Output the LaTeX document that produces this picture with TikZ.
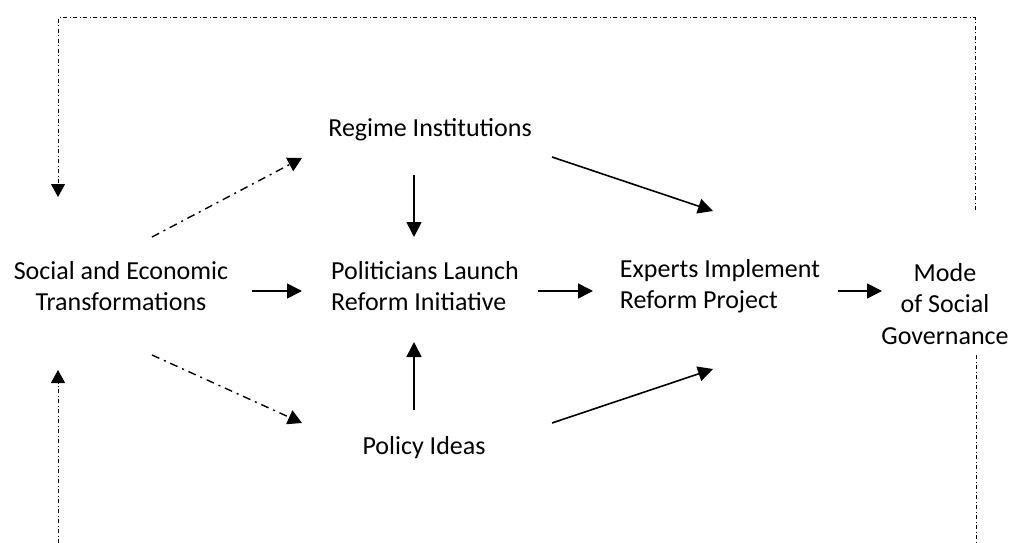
\documentclass[tikz,border=0pt]{standalone}
\usepackage{fontspec}
\setmainfont{Carlito}
\usetikzlibrary{arrows.meta}
\begin{document}
\begin{tikzpicture}[x=1pt,y=-1pt,
  lbl/.style={inner sep=0pt,font=\fontsize{26}{31.5}\selectfont},
  arr/.style={line width=1.6pt,-{Triangle[length=15pt,width=15pt]}},
  diagarr/.style={line width=1.4pt,dash pattern=on 8pt off 5pt on 2pt off 5pt,-{Triangle[length=14pt,width=15pt]}},
  fbarr/.style={line width=1pt,dash pattern=on 4pt off 2.5pt on 1pt off 2.5pt,-{Triangle[length=13pt,width=14pt]}},
  fbline/.style={line width=1pt,dash pattern=on 4pt off 2.5pt on 1pt off 2.5pt}]
\clip (0,0) rectangle (1014,543);
\fill[white] (0,0) rectangle (1014,543);
\node[lbl,align=center] (soc) at (121,286) {Social and Economic\\Transformations};
\node[lbl] (reg) at (430,130) {Regime Institutions};
\node[lbl,align=left] (pol) at (425,286) {Politicians Launch\\Reform Initiative};
\node[lbl,align=left] (exp) at (720,286) {Experts Implement\\Reform Project};
\node[lbl,align=center] (mode) at (945,304) {Mode\\of Social\\Governance};
\node[lbl] (pi) at (424,448) {Policy Ideas};
% solid arrows
\draw[arr] ([shift={(131,5)}]soc.center) -- ([shift={(-123,5)}]pol.center);
\draw[arr] ([shift={(113,5)}]pol.center) -- ([shift={(-127,5)}]exp.center);
\draw[arr] ([shift={(118,5)}]exp.center) -- ([shift={(-63,-13)}]mode.center);
\draw[arr] ([shift={(-16,45)}]reg.center) -- ([shift={(-11,-49)}]pol.center);
\draw[arr] ([shift={(-10,-38)}]pi.center) -- ([shift={(-11,56)}]pol.center);
\draw[arr] ([shift={(122,27)}]reg.center) -- ([shift={(-7,-75)}]exp.center);
\draw[arr] ([shift={(128,-25)}]pi.center) -- ([shift={(-7,83)}]exp.center);
% dash-dot arrows
\draw[diagarr] ([shift={(31,-49)}]soc.center) -- ([shift={(-128,28)}]reg.center);
\draw[diagarr] ([shift={(31,69)}]soc.center) -- ([shift={(-122,-25)}]pi.center);
% feedback loops
\draw[fbarr] ([shift={(30,-94)}]mode.center) -- ++(0,-192) -| ([shift={(-63,-89)}]soc.center);
\draw[fbarr] ([shift={(31,51)}]mode.center) -- ++(0,205) -| ([shift={(-63,84)}]soc.center);
\end{tikzpicture}
\end{document}
